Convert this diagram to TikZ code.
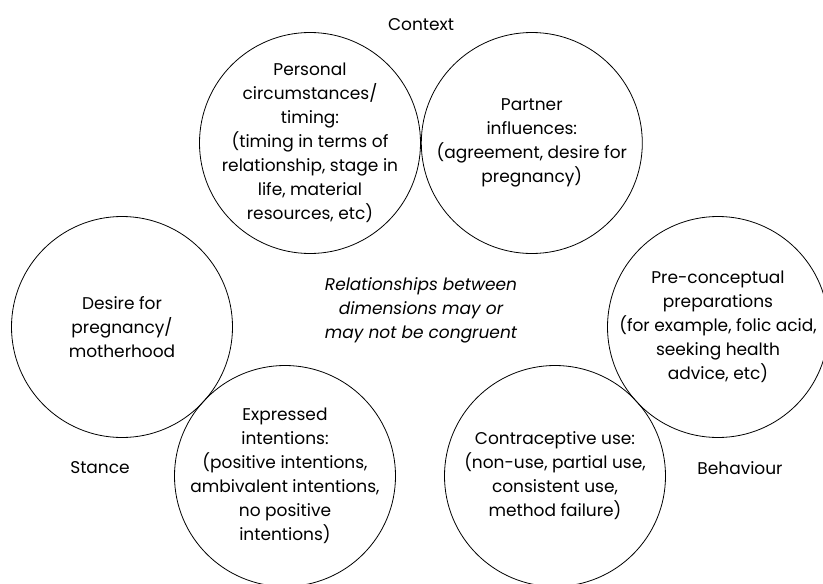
\documentclass[tikz,border=0pt]{standalone}
\usepackage{fontspec}
\setmainfont{Poppins}
\usetikzlibrary{positioning}
\begin{document}
\begin{tikzpicture}[x=1pt,y=-1pt,every node/.style={font=\fontsize{17}{24}\selectfont,align=center},dim/.style={shape=circle,draw,line width=0.8pt,minimum size=221pt,inner sep=0pt},]
\useasboundingbox (0,0) rectangle (823,584);
\node[dim] (c1) at (310,143) {};
\node[dim] (c2) [right =0pt of c1] {};
\node[dim] (c3) at (122,327) {};
\node[dim] (c4) at (718,327) {};
\node[dim] (c5) at (285,476) {};
\node[dim] (c6) at (555,476) {};

\node (t1) at (c1) {Personal\\circumstances/\\timing:\\(timing in terms of\\relationship, stage in\\life, material\\resources, etc)};
\node (t2) at (c2) {Partner\\influences:\\(agreement, desire for\\pregnancy)};
\node (t3) at (c3) {Desire for\\pregnancy/\\motherhood};
\node (t4) at (c4) {Pre-conceptual\\preparations\\(for example, folic acid,\\seeking health\\advice, etc)};
\node (t5) at (c5) {Expressed\\intentions:\\(positive intentions,\\ambivalent intentions,\\no positive\\intentions)};
\node (t6) at (c6) {Contraceptive use:\\(non-use, partial use,\\consistent use,\\method failure)};

\node (k1) at (421,25) {Context};
\node (k2) at (100,468) {Stance};
\node (k3) at (740,468) {Behaviour};
\node (m) at (421,310) {\itshape Relationships between\\\itshape dimensions may or\\\itshape may not be congruent};
\end{tikzpicture}
\end{document}
